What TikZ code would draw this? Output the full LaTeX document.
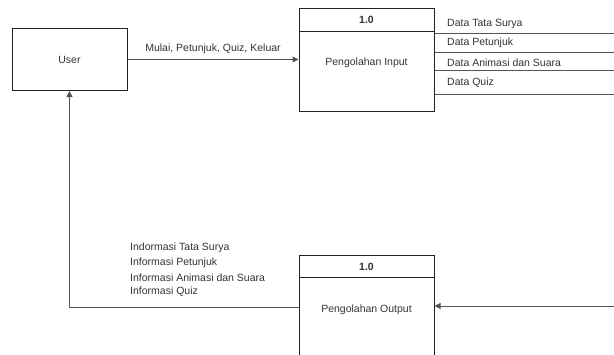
\documentclass[tikz,border=0pt]{standalone}
\usepackage{fontspec}
\setmainfont{Liberation Sans}
\usetikzlibrary{arrows.meta}
\definecolor{boxline}{HTML}{222222}
\definecolor{flowline}{HTML}{555555}
\definecolor{txt}{HTML}{333333}
\begin{document}
\begin{tikzpicture}[x=1pt,y=-1pt,
  every node/.style={font=\fontsize{10.5}{12}\selectfont, text=txt},
  entity/.style={draw=boxline, line width=1pt, minimum width=115pt, minimum height=62pt, inner sep=0pt},
  procbody/.style={draw=boxline, line width=1pt, minimum width=135pt, inner sep=0pt},
  flow/.style={draw=flowline, line width=1pt},
  tip/.style={-{Triangle[length=6pt,width=6pt]}},
  lbl/.style={anchor=west, inner sep=0pt}]
  \useasboundingbox (0,0) rectangle (614,354);

  % external entity
  \node[entity] (user) at (69.5,59.5) {User};

  % input process
  \node[procbody, minimum height=103pt] (pin) at (366.5,59.5) {};
  \draw[boxline, line width=1pt] ([yshift=-24pt]pin.north west) -- ([yshift=-24pt]pin.north east);
  \node (pinid) at (366.5,20) {\textbf{1.0}};
  \node (pinname) at (366.5,63) {Pengolahan Input};

  % output process (runs past the lower edge)
  \node[procbody, minimum height=110pt] (pout) at (366.5,310) {};
  \draw[boxline, line width=1pt] ([yshift=-23pt]pout.north west) -- ([yshift=-23pt]pout.north east);
  \node (poutid) at (366.5,267) {\textbf{1.0}};
  \node (poutname) at (366.5,310) {Pengolahan Output};

  % user input to the input process
  \draw[flow, tip] (user.east) -- (user.east -| pin.west)
    node[midway, above=5pt, inner sep=0pt] (inlbl) {Mulai, Petunjuk, Quiz, Keluar};

  % data stores fed by the input process
  \coordinate (d1) at (614,33);
  \coordinate (d2) at (614,52);
  \coordinate (d3) at (614,70);
  \coordinate (d4) at (614,94);
  \draw[flow] (pin.east |- d1) -- (d1);
  \draw[flow] (pin.east |- d2) -- (d2);
  \draw[flow] (pin.east |- d3) -- (d3);
  \draw[flow] (pin.east |- d4) -- (d4);
  \node[lbl] (l1) at (447,24) {Data Tata Surya};
  \node[lbl] (l2) at (447,43) {Data Petunjuk};
  \node[lbl] (l3) at (447,62.5) {Data Animasi dan Suara};
  \node[lbl] (l4) at (447,82.5) {Data Quiz};

  % data coming back into the output process
  \coordinate (ext) at (614,306);
  \draw[flow, tip] (ext) -- (ext -| pout.east);

  % output returned to the user
  \coordinate (ret) at (299,307);
  \draw[flow, tip] (ret -| pout.west) -| (user.south);
  \node[lbl] (o1) at (130,247.5) {Indormasi Tata Surya};
  \node[lbl] (o2) at (130,262.5) {Informasi Petunjuk};
  \node[lbl] (o3) at (130,277.5) {Informasi Animasi dan Suara};
  \node[lbl] (o4) at (130,292) {Informasi Quiz};
\end{tikzpicture}
\end{document}
